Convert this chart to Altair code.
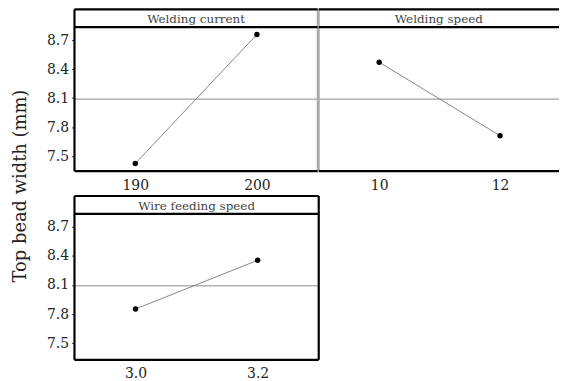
import altair as alt
import pandas as pd

FONT = "DejaVu Serif"

factor_names = ["Welding current", "Welding speed", "Wire feeding speed"]
levels_current = [190, 200]
means_current = [7.425, 8.758]
levels_speed = [10, 12]
means_speed = [8.471, 7.712]
levels_wire = [3.0, 3.2]
means_wire = [7.852, 8.352]
grand_mean = 8.09
y_ticks = [7.5, 7.8, 8.1, 8.4, 8.7]
x_domains = [[185, 205], [9, 12.975], [2.9, 3.3]]
x_ticks = [[190, 200], [10, 12], [3.0, 3.2]]
x_formats = ["d", "d", ".1f"]
y_title = "Top bead width (mm)"

HEADER = 18
dummy = pd.DataFrame({"a": [0]})


def hrule(W, yy, color="black", sw=2.2):
    return alt.Chart(dummy).mark_rule(color=color, strokeWidth=sw).encode(
        x=alt.value(0), x2=alt.value(W), y=alt.value(yy))


def vrule(xx, H, color="black", sw=2.2):
    return alt.Chart(dummy).mark_rule(color=color, strokeWidth=sw).encode(
        x=alt.value(xx), y=alt.value(0), y2=alt.value(H))


def panel(name, levels, means, xdom, xt, fmt, W, H, ydom, show_y, kind):
    df = pd.DataFrame({"level": levels, "mean": means})
    x = alt.X("level:Q",
              scale=alt.Scale(domain=xdom, nice=False, zero=False),
              axis=alt.Axis(values=xt, format=fmt, title=None, ticks=False,
                            domain=False, grid=False, labelPadding=7,
                            labelFont=FONT, labelFontSize=14, labelColor="#222"))
    if show_y:
        yaxis = alt.Axis(values=y_ticks, format=".1f", title=None, ticks=True,
                         tickSize=3, tickColor="#444", domain=False, grid=False,
                         labelPadding=3, labelFont=FONT, labelFontSize=14,
                         labelColor="#222")
    else:
        yaxis = None
    y = alt.Y("mean:Q", scale=alt.Scale(domain=ydom, nice=False, zero=False),
              axis=yaxis)
    base = alt.Chart(df)
    ref = alt.Chart(pd.DataFrame({"mean": [grand_mean]})).mark_rule(
        color="#8a8a8a", strokeWidth=1).encode(y=y)
    line = base.mark_line(color="#777", strokeWidth=0.9).encode(x=x, y=y)
    pts = base.mark_point(filled=True, color="black", size=30, opacity=1).encode(x=x, y=y)

    layers = [ref, line, pts]
    if kind == "left":
        layers += [vrule(0, H), vrule(W, H, "#aaaaaa", 2)]
    elif kind == "right":
        layers += [vrule(0, H, "#aaaaaa", 2)]
    else:
        layers += [vrule(0, H), vrule(W, H)]
    layers += [hrule(W, 0), hrule(W, H), hrule(W, HEADER)]
    layers.append(alt.Chart(dummy).mark_text(font=FONT, fontSize=12, color="#444",
                                             baseline="middle", align="center").encode(
        x=alt.value(W / 2), y=alt.value(HEADER / 2 + 1), text=alt.value(name)))
    return alt.layer(*layers).properties(width=W, height=H)


p1 = panel(factor_names[0], levels_current, means_current, x_domains[0], x_ticks[0],
           x_formats[0], 245, 163, [7.346, 9.018], True, "left")
p2 = panel(factor_names[1], levels_speed, means_speed, x_domains[1], x_ticks[1],
           x_formats[1], 242, 163, [7.346, 9.018], False, "right")
p3 = panel(factor_names[2], levels_wire, means_wire, x_domains[2], x_ticks[2],
           x_formats[2], 246, 165, [7.33, 9.013], True, "full")

title = alt.Chart(dummy).mark_text(angle=270, font=FONT, fontSize=18, color="#222",
                                   baseline="middle", align="center").encode(
    x=alt.value(20), y=alt.value(178), text=alt.value(y_title)
).properties(width=74, height=353)

grid = alt.concat(p1, p2, p3, columns=2, spacing={"row": 25, "column": 0},
                  bounds="flush")
chart = alt.hconcat(title, grid, spacing=0, bounds="flush").properties(
    padding={"left": 0, "top": 6, "right": 0, "bottom": 0}
).configure_view(stroke="transparent")

chart.save("out.html", embed_options={"renderer": "svg", "actions": False})
